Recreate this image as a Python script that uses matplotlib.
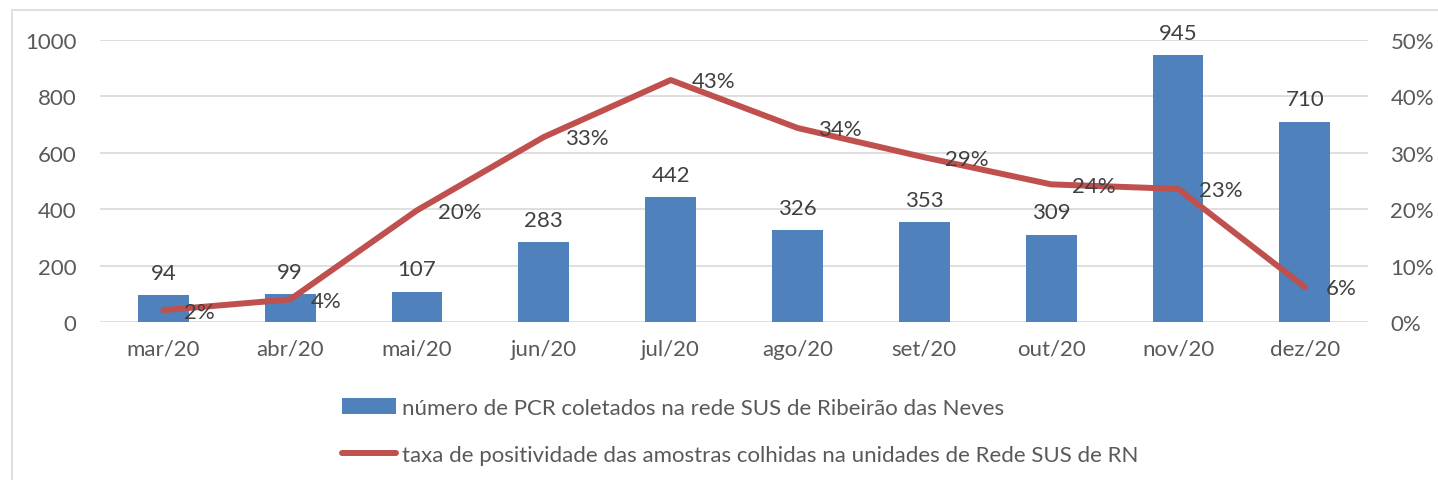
import numpy as np
import matplotlib
matplotlib.use('Agg')
import matplotlib.pyplot as plt
from matplotlib.patches import Rectangle
from matplotlib.ticker import FuncFormatter

months = ['mar/20', 'abr/20', 'mai/20', 'jun/20', 'jul/20',
          'ago/20', 'set/20', 'out/20', 'nov/20', 'dez/20']
pcr = [94, 99, 107, 283, 442, 326, 353, 309, 945, 710]
posit = [2.1, 4.0, 19.8, 32.8, 42.9, 34.4, 29.2, 24.4, 23.6, 6.2]
posit_lab = ['2%', '4%', '20%', '33%', '43%', '34%', '29%', '24%', '23%', '6%']
bar_label = 'número de PCR coletados na rede SUS de Ribeirão das Neves'
line_label = 'taxa de positividade das amostras colhidas na unidades de Rede SUS de RN'

BLUE, RED = '#4F81BD', '#C0504D'
TXT, TICK, GRID = '#404040', '#595959', '#D9D9D9'
FS = 16
plt.rcParams['font.family'] = ['Lato', 'DejaVu Sans']

fig = plt.figure(figsize=(14.38, 4.81), dpi=100)
ax = fig.add_axes([0.0695, 0.3285, 0.882, 0.5863])
x = np.arange(len(months))
bars = ax.bar(x, pcr, width=0.4, color=BLUE, label=bar_label, zorder=2)
for xi, v in zip(x, pcr):
    ax.annotate(str(v), (xi, v), xytext=(0, 9), textcoords='offset points',
                ha='center', va='bottom', fontsize=FS, color=TXT)
ax.set_xlim(-0.5, 9.5)
ax.set_ylim(0, 1000)
ax.set_yticks(range(0, 1001, 200))
ax.set_xticks(x)
ax.set_xticklabels(months)
ax.grid(axis='y', color=GRID, lw=1.2, zorder=0)
ax.set_axisbelow(True)
for s in ax.spines.values():
    s.set_visible(False)
ax.tick_params(length=0, labelsize=FS, colors=TICK, pad=17)
ax.tick_params(axis='x', pad=12)

ax2 = ax.twinx()
line, = ax2.plot(x, posit, color=RED, lw=4.3, solid_capstyle='round',
                 label=line_label, zorder=3)
for xi, v, t in zip(x, posit, posit_lab):
    ax2.annotate(t, (xi, v), xytext=(15, -1), textcoords='offset points',
                 ha='left', va='center', fontsize=FS, color=TXT)
ax2.set_ylim(0, 50)
ax2.set_yticks(range(0, 51, 10))
ax2.yaxis.set_major_formatter(FuncFormatter(lambda v, p: f'{v:.0f}%'))
for s in ax2.spines.values():
    s.set_visible(False)
ax2.tick_params(length=0, labelsize=FS, colors=TICK, pad=16)

fig.legend(handles=[bars, line], loc='upper center', bbox_to_anchor=(0.515, 0.212),
           ncol=1, frameon=False, fontsize=FS, labelcolor=TICK,
           handlelength=2.4, handleheight=0.75, handletextpad=0.3, labelspacing=1.2)

fig.patches.append(Rectangle((12 / 1438, -0.1), 1.2, 1 - 11 / 481 + 0.1,
                             transform=fig.transFigure, fill=False,
                             edgecolor='#D9D9D9', lw=1.2))
fig.savefig('out.png', dpi=100)
